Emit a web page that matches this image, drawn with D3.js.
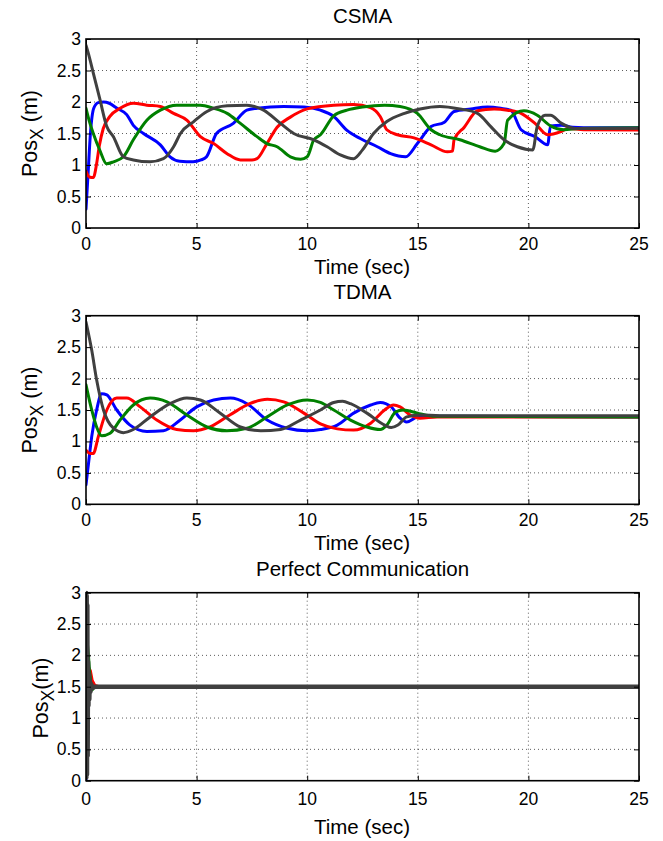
<!DOCTYPE html>
<html>
<head>
<meta charset="utf-8">
<script src="https://cdn.jsdelivr.net/npm/d3@7"></script>
<style>
  html, body { margin: 0; padding: 0; background: #fff; }
  svg { display: block; font-family: "Liberation Sans", Arial, Helvetica, sans-serif; }
</style>
</head>
<body>
<svg id="chart" width="663" height="841"></svg>
<script>
// ---------- Data ----------
const panelTitles = ["CSMA", "TDMA", "Perfect Communication"];
const xTicks = [0, 5, 10, 15, 20, 25];
const yTicks = [0, 0.5, 1, 1.5, 2, 2.5, 3];
const yTickLabels = ["0", "0.5", "1", "1.5", "2", "2.5", "3"];
const xLabel = "Time (sec)";
const seriesColors = ["#0000ff", "#ff0000", "#008000", "#404040"];

// CSMA  [time, posX]
const csmaBlue = [[0,0.3],[0.1,0.9],[0.2,1.5],[0.35,1.9],[0.55,1.99],[0.8,2.0],[1.05,1.98],[1.4,1.9],[1.84,1.8],[2.14,1.63],[2.6,1.5],[3.36,1.32],[3.8,1.13],[4.24,1.06],[4.84,1.05],[5.2,1.08],[5.45,1.13],[5.9,1.5],[6.66,1.66],[7.27,1.87],[7.73,1.9],[8.94,1.93],[9.85,1.92],[10.6,1.87],[11.2,1.77],[11.8,1.55],[12.4,1.42],[13.17,1.29],[13.77,1.18],[14.45,1.13],[14.98,1.34],[15.6,1.61],[16.2,1.68],[16.64,1.85],[17.4,1.89],[18.15,1.92],[18.75,1.9],[19.2,1.87],[19.67,1.56],[20.3,1.45],[20.87,1.32],[21.0,1.62],[21.5,1.63],[22.0,1.6],[23,1.59],[25,1.59]];
const csmaRed = [[0,0.9],[0.15,0.81],[0.33,0.8],[0.48,1.02],[0.6,1.3],[0.78,1.58],[1.08,1.77],[1.54,1.9],[2.14,1.98],[2.75,1.95],[3.36,1.93],[3.96,1.82],[4.57,1.71],[5.17,1.45],[5.77,1.34],[6.38,1.18],[6.98,1.08],[7.5,1.08],[7.73,1.1],[8.18,1.34],[8.64,1.6],[9.24,1.76],[10.0,1.89],[11.2,1.95],[12.1,1.96],[12.86,1.91],[13.3,1.77],[13.6,1.56],[14.08,1.48],[14.83,1.43],[15.6,1.32],[16.34,1.21],[16.57,1.22],[16.64,1.4],[17.1,1.6],[17.7,1.86],[18.45,1.89],[19.05,1.87],[19.67,1.82],[20.3,1.66],[20.87,1.48],[21.47,1.53],[21.8,1.58],[22.5,1.56],[25,1.555]];
const csmaGreen = [[0,1.9],[0.18,1.66],[0.33,1.5],[0.63,1.23],[0.93,1.02],[1.24,1.05],[1.69,1.13],[2.14,1.4],[2.75,1.71],[3.36,1.87],[4.1,1.95],[5.17,1.95],[5.77,1.9],[6.38,1.82],[6.98,1.66],[7.73,1.45],[8.18,1.34],[8.64,1.29],[9.24,1.13],[9.7,1.09],[10.0,1.13],[10.3,1.4],[10.6,1.48],[11.2,1.78],[11.8,1.87],[12.5,1.92],[13.5,1.95],[14.2,1.93],[14.98,1.82],[15.6,1.56],[16.0,1.48],[16.9,1.4],[17.8,1.29],[18.5,1.22],[18.9,1.34],[19.06,1.71],[19.8,1.86],[20.4,1.79],[21.0,1.62],[21.6,1.56],[22.3,1.58],[25,1.59]];
const csmaGray = [[0,2.9],[0.1,2.78],[0.33,2.46],[0.63,2.04],[0.93,1.62],[1.24,1.45],[1.69,1.13],[2.14,1.08],[2.9,1.05],[3.5,1.1],[3.96,1.29],[4.27,1.5],[4.87,1.69],[5.47,1.85],[6.38,1.94],[7.27,1.95],[8.03,1.87],[8.79,1.66],[9.39,1.5],[10.3,1.4],[10.9,1.29],[11.5,1.16],[12.1,1.1],[12.5,1.24],[13.0,1.5],[13.6,1.69],[14.4,1.82],[15.1,1.89],[16.0,1.93],[16.9,1.89],[17.7,1.82],[18.3,1.61],[18.9,1.4],[19.5,1.29],[20.2,1.24],[20.4,1.61],[20.75,1.79],[21.0,1.79],[21.5,1.66],[22.1,1.58],[25,1.585]];

// TDMA
const tdmaBlue = [[0,0.31],[0.13,0.7],[0.26,1.08],[0.48,1.5],[0.71,1.76],[0.94,1.74],[1.39,1.5],[1.99,1.26],[2.75,1.16],[3.5,1.17],[4.26,1.34],[5.0,1.55],[5.77,1.66],[6.53,1.69],[7.28,1.6],[8.19,1.34],[9.1,1.21],[10.0,1.17],[10.6,1.19],[11.36,1.26],[12.1,1.45],[12.87,1.58],[13.3,1.62],[13.8,1.55],[14.2,1.37],[14.5,1.31],[15,1.39],[16,1.4],[25,1.39]];
const tdmaRed = [[0,0.86],[0.18,0.81],[0.33,0.81],[0.56,1.08],[0.94,1.5],[1.39,1.69],[1.84,1.69],[2.45,1.55],[3.2,1.34],[4.1,1.19],[4.86,1.17],[5.6,1.23],[6.5,1.42],[7.4,1.6],[8.2,1.67],[8.94,1.63],[9.85,1.45],[10.6,1.28],[11.36,1.2],[12.1,1.18],[12.87,1.29],[13.5,1.5],[13.9,1.58],[14.2,1.55],[14.66,1.42],[15.1,1.37],[15.87,1.39],[25,1.39]];
const tdmaGreen = [[0,1.9],[0.26,1.5],[0.48,1.23],[0.71,1.09],[1.09,1.13],[1.54,1.34],[2.14,1.58],[2.9,1.69],[3.66,1.63],[4.56,1.42],[5.47,1.23],[6.37,1.17],[7.28,1.21],[8.19,1.39],[9.1,1.58],[10.0,1.66],[10.6,1.62],[11.2,1.5],[11.96,1.34],[12.7,1.23],[13.3,1.19],[13.6,1.26],[14.0,1.47],[14.35,1.5],[14.98,1.45],[15.8,1.4],[25,1.39]];
const tdmaGray = [[0,2.9],[0.26,2.45],[0.48,1.98],[0.79,1.5],[1.24,1.21],[1.69,1.14],[2.14,1.19],[2.9,1.39],[3.8,1.6],[4.56,1.69],[5.17,1.66],[6.07,1.45],[6.98,1.23],[7.9,1.17],[8.8,1.19],[9.7,1.34],[10.6,1.5],[11.2,1.62],[11.6,1.64],[11.96,1.6],[12.7,1.45],[13.5,1.26],[13.8,1.22],[14.1,1.26],[14.5,1.39],[15.1,1.42],[16,1.41],[25,1.41]];

// Perfect communication
const perfBlue = [[0,0.0],[0.05,0.3],[0.08,0.9],[0.11,1.25],[0.16,1.45],[0.25,1.53],[0.4,1.5],[25,1.5]];
const perfRed = [[0,1.0],[0.08,1.5],[0.13,1.8],[0.2,1.75],[0.28,1.6],[0.4,1.52],[0.6,1.5],[25,1.5]];
const perfGreen = [[0,2.0],[0.06,2.2],[0.11,2.0],[0.16,1.75],[0.22,1.55],[0.28,1.45],[0.38,1.5],[25,1.5]];
const perfGray = [[0,3.0],[0.015,0.05],[0.03,2.95],[0.045,0.1],[0.06,2.8],[0.075,0.4],[0.09,1.9],[0.11,1.2],[0.13,1.7],[0.15,1.3],[0.17,1.6],[0.2,1.42],[0.24,1.54],[0.3,1.48],[0.4,1.5],[25,1.5]];

// ---------- Layout ----------
const panels = [
  { title: panelTitles[0], series: [csmaBlue, csmaRed, csmaGreen, csmaGray], top: 39, bottom: 228, curve: d3.curveMonotoneX,
    tickDy: 22, xlabDy: 46, ylabX: 37, ylabY: 133.5, lw: 3 },
  { title: panelTitles[1], series: [tdmaBlue, tdmaRed, tdmaGreen, tdmaGray], top: 315.7, bottom: 504.3, curve: d3.curveMonotoneX,
    tickDy: 22, xlabDy: 46, ylabX: 37, ylabY: 410, lw: 3 },
  { title: panelTitles[2], series: [perfBlue, perfRed, perfGreen, perfGray], top: 592.7, bottom: 780.7, curve: d3.curveLinear,
    tickDy: 24, xlabDy: 53, ylabX: 48, ylabY: 698, lw: 4.5 }
];
const left = 86, right = 639;

const svg = d3.select("#chart");

panels.forEach((p, i) => {
  const x = d3.scaleLinear().domain([0, 25]).range([left, right]);
  const y = d3.scaleLinear().domain([0, 3]).range([p.bottom, p.top]);
  const g = svg.append("g");

  // grid (dotted)
  const grid = g.append("g").attr("stroke", "#333").attr("stroke-width", 0.8).attr("stroke-dasharray", "1,3");
  xTicks.slice(1, -1).forEach(t => {
    grid.append("line").attr("x1", x(t)).attr("x2", x(t)).attr("y1", p.top).attr("y2", p.bottom);
  });
  yTicks.slice(1, -1).forEach(t => {
    grid.append("line").attr("y1", y(t)).attr("y2", y(t)).attr("x1", left).attr("x2", right);
  });

  // series lines
  const line = d3.line().x(d => x(d[0])).y(d => y(d[1])).curve(p.curve);
  const clipId = "clip" + i;
  g.append("clipPath").attr("id", clipId).append("rect")
    .attr("x", left).attr("y", p.top - 2).attr("width", right - left).attr("height", p.bottom - p.top + 2);
  const lines = g.append("g").attr("clip-path", `url(#${clipId})`);
  p.series.forEach((s, k) => {
    lines.append("path").datum(s).attr("d", line)
      .attr("fill", "none").attr("stroke", seriesColors[k])
      .attr("stroke-width", (i === 2 && k < 3) ? 3 : p.lw).attr("stroke-linejoin", "round").attr("stroke-linecap", "round");
  });

  // axes (inward ticks on all sides)
  const xb = d3.axisBottom(x).tickValues(xTicks).tickSizeInner(-5).tickSizeOuter(0).tickFormat("");
  const xt = d3.axisTop(x).tickValues(xTicks).tickSizeInner(-5).tickSizeOuter(0).tickFormat("");
  const yl = d3.axisLeft(y).tickValues(yTicks).tickSizeInner(-5).tickSizeOuter(0).tickFormat("");
  const yr = d3.axisRight(y).tickValues(yTicks).tickSizeInner(-5).tickSizeOuter(0).tickFormat("");
  [[xb, `translate(0,${p.bottom})`], [xt, `translate(0,${p.top})`], [yl, `translate(${left},0)`], [yr, `translate(${right},0)`]]
    .forEach(([ax, tr]) => {
      const a = g.append("g").attr("transform", tr).call(ax);
      a.select(".domain").remove();
      a.selectAll("line").attr("stroke", "#000").attr("stroke-width", 1);
    });

  // frame
  g.append("rect").attr("x", left).attr("y", p.top).attr("width", right - left).attr("height", p.bottom - p.top)
    .attr("fill", "none").attr("stroke", "#000").attr("stroke-width", 1.6);

  // tick labels
  const txt = g.append("g").attr("fill", "#000").attr("font-size", 17.5);
  xTicks.forEach(t => {
    txt.append("text").attr("x", x(t)).attr("y", p.bottom + p.tickDy).attr("text-anchor", "middle").text(t);
  });
  yTicks.forEach((t, k) => {
    txt.append("text").attr("x", left - 5).attr("y", y(t) + 6).attr("text-anchor", "end").text(yTickLabels[k]);
  });

  // title
  g.append("text").attr("x", (left + right) / 2).attr("y", p.top - 16.5)
    .attr("text-anchor", "middle").attr("font-size", 20.5).attr("fill", "#000").text(p.title);

  // x label
  g.append("text").attr("x", (left + right) / 2 - 0.5).attr("y", p.bottom + p.xlabDy)
    .attr("text-anchor", "middle").attr("font-size", 20.5).attr("fill", "#000").text(xLabel);

  // y label  Pos_X (m)
  const yl2 = g.append("text").attr("transform", `translate(${p.ylabX},${p.ylabY}) rotate(-90)`)
    .attr("text-anchor", "middle").attr("font-size", 21.5).attr("fill", "#000");
  yl2.append("tspan").text("Pos");
  yl2.append("tspan").attr("dy", 6).attr("font-size", 17.5).text("X");
  yl2.append("tspan").attr("dy", -6).text(i === 2 ? "(m)" : " (m)");
});
</script>
</body>
</html>
